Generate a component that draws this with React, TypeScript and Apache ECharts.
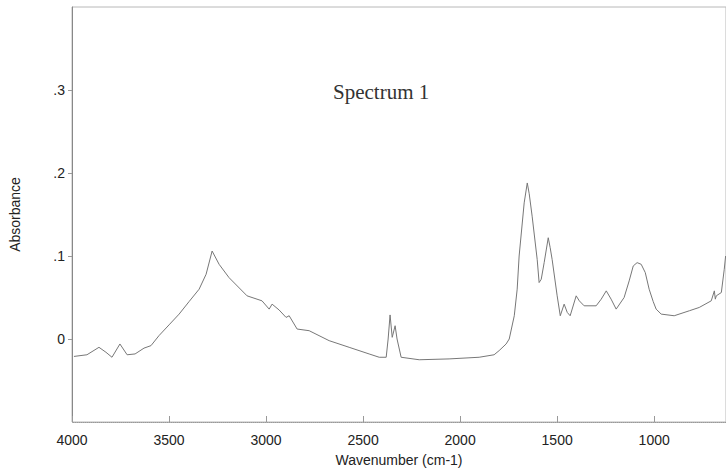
import React, { useEffect, useRef } from "react";
import * as echarts from "echarts";

const wavenumbers = [
  3990, 3923, 3861, 3825, 3794, 3753, 3716, 3675, 3629, 3593, 3552, 3500, 3448, 3397, 3345, 3309,
  3278, 3242, 3191, 3098, 3021, 2984, 2969, 2933, 2897, 2881, 2840, 2778, 2675, 2572, 2469,
  2417, 2381, 2371, 2361, 2350, 2335, 2325, 2304, 2211, 2057, 1902, 1825, 1799, 1763, 1747, 1721,
  1706, 1696, 1670, 1654, 1644, 1629, 1603, 1593, 1582, 1567, 1546, 1536, 1526, 1500, 1484, 1464,
  1448, 1433, 1402, 1386, 1361, 1299, 1273, 1247, 1222, 1196, 1155, 1129, 1108, 1088, 1067, 1046,
  1026, 1005, 990, 964, 897, 819, 768, 706, 690, 685, 680, 654, 639, 632,
];
const absorbance = [
  -0.021, -0.019, -0.01, -0.016, -0.022, -0.006, -0.019, -0.018, -0.011, -0.008, 0.004, 0.017, 0.03,
  0.045, 0.06, 0.078, 0.106, 0.09, 0.074, 0.052, 0.046, 0.036, 0.042, 0.035, 0.026, 0.028, 0.012,
  0.01, -0.002, -0.01, -0.018, -0.022, -0.022, 0.0, 0.029, 0.002, 0.016, 0.0, -0.022, -0.025,
  -0.024, -0.022, -0.019, -0.014, -0.006, 0.0, 0.028, 0.06, 0.1, 0.164, 0.188, 0.175, 0.148, 0.096,
  0.068, 0.072, 0.092, 0.122, 0.11, 0.096, 0.052, 0.028, 0.042, 0.032, 0.028, 0.052, 0.046, 0.04,
  0.04, 0.048, 0.058, 0.048, 0.036, 0.05, 0.07, 0.088, 0.092, 0.09, 0.08, 0.06, 0.045, 0.036, 0.03,
  0.028, 0.034, 0.038, 0.046, 0.058, 0.048, 0.052, 0.056, 0.084, 0.1,
];
const xTicks = [4000, 3500, 3000, 2500, 2000, 1500, 1000];
const yTickLabels: Record<string, string> = { "0": "0", "0.1": ".1", "0.2": ".2", "0.3": ".3" };
const title = "Spectrum 1";

export default function App() {
  const ref = useRef<HTMLDivElement>(null);
  useEffect(() => {
    if (!ref.current) return;
    const chart = echarts.init(ref.current, null, { renderer: "svg" });
    const sans = "'Liberation Sans', Arial, sans-serif";
    chart.setOption({
      animation: false,
      backgroundColor: "#ffffff",
      grid: { left: 72, top: 7, right: 0, bottom: 51, show: true, borderColor: "#b8b8b8", borderWidth: 1 },
      graphic: [
        {
          type: "text",
          left: 333,
          top: 81,
          style: { text: title, font: "21px 'Liberation Serif', 'Times New Roman', serif", fill: "#333" },
        },
      ],
      xAxis: {
        type: "value",
        inverse: true,
        min: 630,
        max: 4000,
        name: "Wavenumber (cm-1)",
        nameLocation: "middle",
        nameGap: 31,
        nameTextStyle: { fontFamily: sans, fontSize: 14, color: "#222" },
        axisLine: { onZero: false, lineStyle: { color: "#999", type: "dotted" } },
        axisTick: { inside: true, length: 6, customValues: xTicks, lineStyle: { color: "#999" } },
        axisLabel: {
          customValues: xTicks,
          margin: 11,
          fontFamily: sans,
          fontSize: 14,
          color: "#222",
          formatter: (v: number) => String(v),
        },
        splitLine: { show: false },
      },
      yAxis: {
        type: "value",
        min: -0.1,
        max: 0.4,
        interval: 0.1,
        name: "Absorbance",
        nameLocation: "middle",
        nameGap: 50,
        nameTextStyle: { fontFamily: sans, fontSize: 14, color: "#222" },
        axisLine: { show: true, onZero: false, lineStyle: { color: "#888" } },
        axisTick: {
          show: true,
          length: 4,
          lineStyle: { color: "#999" },
          customValues: [0, 0.1, 0.2, 0.3],
        },
        axisLabel: {
          margin: 7,
          fontFamily: sans,
          fontSize: 14,
          color: "#222",
          formatter: (v: number) => {
            const k = String(Math.round(v * 10) / 10);
            return yTickLabels[k] ?? "";
          },
        },
        splitLine: { show: false },
      },
      series: [
        {
          type: "line",
          data: wavenumbers.map((w, i) => [w, absorbance[i]]),
          showSymbol: false,
          smooth: false,
          lineStyle: { color: "#777", width: 1 },
        },
      ],
    });
    return () => chart.dispose();
  }, []);
  return <div ref={ref} style={{ position: "fixed", left: 0, top: 0, width: 726, height: 473 }} />;
}
